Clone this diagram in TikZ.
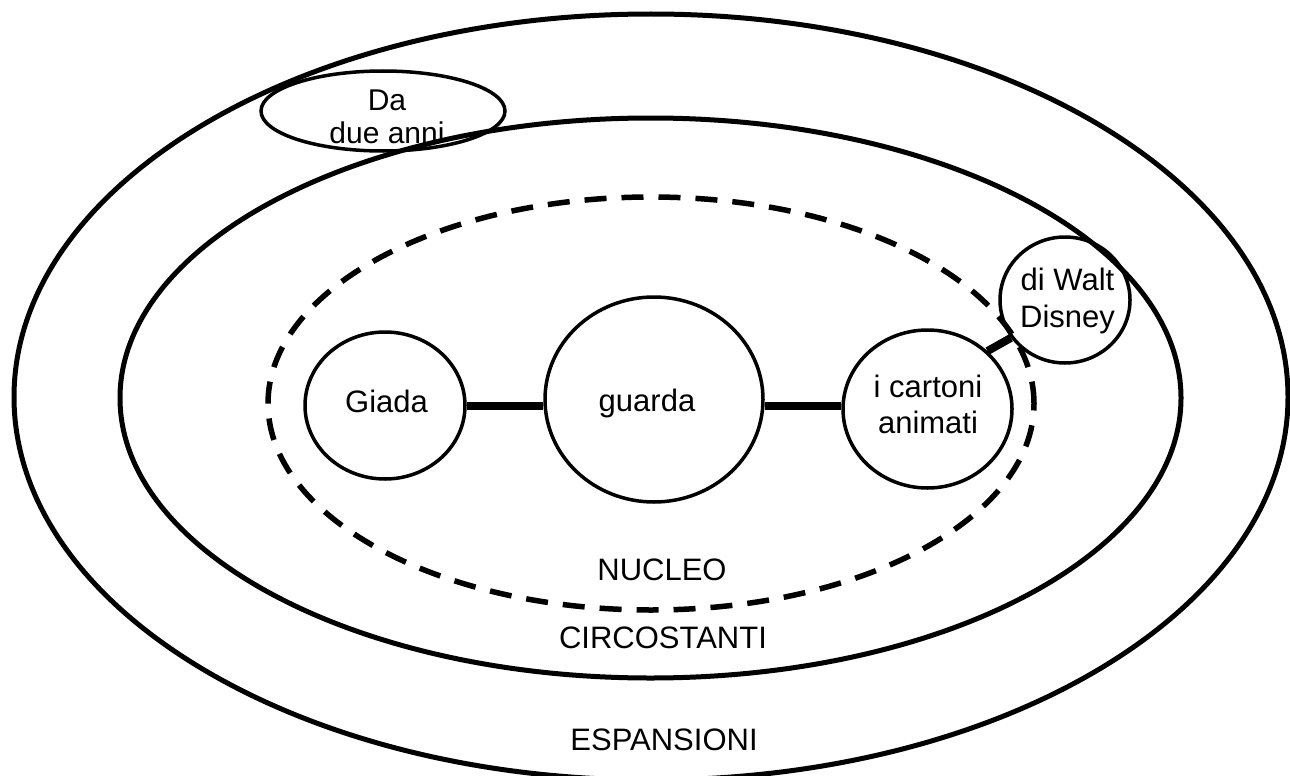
\documentclass[tikz,border=0pt]{standalone}
\usepackage{fontspec}
\setmainfont{Liberation Sans}
\usetikzlibrary{shapes.geometric}
\begin{document}
\begin{tikzpicture}[x=1pt,y=-1pt,
  zone/.style={draw,ellipse,line width=5pt,inner sep=0pt},
  dashzone/.style={zone,line width=5.5pt,dash pattern=on 22pt off 15pt},
  word/.style={draw,ellipse,line width=3.5pt,inner sep=0pt},
  link/.style={line width=8pt},
  lbl/.style={anchor=base,inner sep=0pt,font=\fontsize{31}{36}\selectfont}]
\useasboundingbox (0,0) rectangle (1290,776);
\clip (0,0) rectangle (1290,776);
% zones
\node[zone,minimum width=1274pt,minimum height=766pt] (esp) at (651,397) {};
\node[zone,minimum width=1061pt,minimum height=560pt] (circ) at (650.5,398) {};
\node[dashzone,minimum width=766pt,minimum height=413pt] (nuc) at (651,403.5) {};
% word shapes
\node[word,minimum width=244pt,minimum height=80pt] (da) at (383,111) {};
\node[word,minimum width=160pt,minimum height=147pt] (giada) at (385,405.5) {};
\node[word,minimum width=218pt,minimum height=205pt] (guarda) at (654,399.5) {};
\node[word,minimum width=169pt,minimum height=158pt] (cartoni) at (927.5,409) {};
\node[word,minimum width=130pt,minimum height=126pt] (disney) at (1065,300) {};
% connectors
\draw[link] (giada.east) -- (giada.east -| guarda.west);
\draw[link] (guarda.east |- giada.east) -- (giada.east -| cartoni.west);
\draw[link] (cartoni.44) -- (disney.215);
% texts
\node[lbl] (tgiada) at (386.5,412) {Giada};
\node[lbl] (tguarda) at (647,411) {guarda};
\node[lbl] (tcartoni) at (928,397) {\begin{tabular}[t]{@{}c@{}}i cartoni\\animati\end{tabular}};
\node[lbl,font=\fontsize{31}{37}\selectfont] (tdisney) at (1067.5,290) {\begin{tabular}[t]{@{}c@{}}di Walt\\Disney\end{tabular}};
\node[lbl,font=\fontsize{30}{33}\selectfont] (tda) at (387,110) {\begin{tabular}[t]{@{}c@{}}Da\\due anni\end{tabular}};
\node[lbl] (tnuc) at (662,580) {NUCLEO};
\node[lbl] (tcirc) at (663,648) {CIRCOSTANTI};
\node[lbl] (tesp) at (664,750) {ESPANSIONI};
\end{tikzpicture}
\end{document}
